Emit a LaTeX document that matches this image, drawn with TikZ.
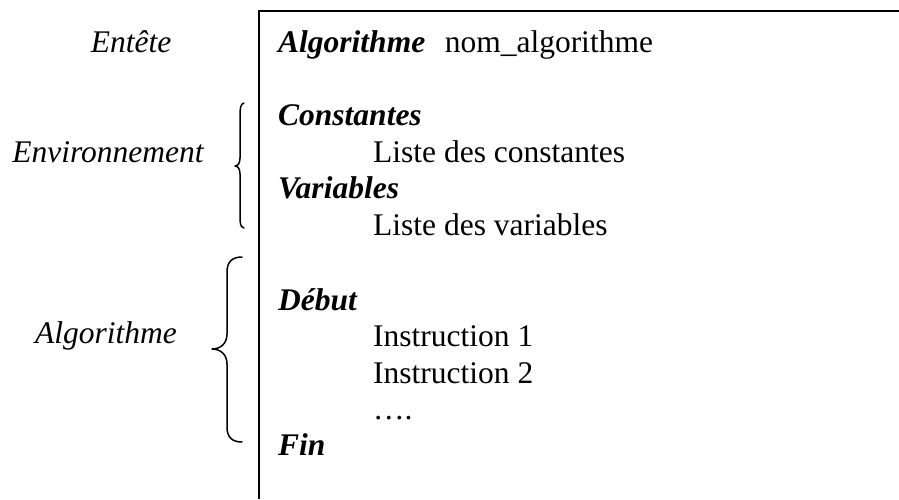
\documentclass[tikz,border=0pt]{standalone}
\usepackage{fontspec}
\setmainfont{Liberation Serif}
\begin{document}
\begin{tikzpicture}[x=1pt,y=-1pt,
  txt/.style={inner sep=0pt,anchor=base west,font=\fontsize{31.5}{37}\selectfont},
  side/.style={inner sep=0pt,anchor=base,font=\fontsize{31.5}{37}\selectfont\itshape},
  kw/.style={txt,font=\fontsize{31.5}{37}\selectfont\bfseries\itshape},
  rule/.style={line width=1.8pt},
  brace/.style={line width=1.5pt,line cap=round,line join=round}]
\useasboundingbox (0,0) rectangle (899,499);

% frame of the algorithm (top and left edges)
\draw[rule] (899,11) -- (259,11) -- (259,499);

% labels on the left
\node[side] (entete) at (131,52) {Entête};
\node[side] (env) at (108,162) {Environnement};
\node[side] (algo) at (106,343) {Algorithme};

% braces
\draw[brace] (244,103) .. controls (240.5,104) and (240,108) .. (240,116)
  -- (240,158) .. controls (240,163) and (238,166) .. (235,166)
  .. controls (238,166) and (240,169) .. (240,174)
  -- (240,216) .. controls (240,224) and (240.5,227) .. (244,228);
\draw[brace] (242,257) .. controls (232,257) and (227,262) .. (227,272)
  -- (227,334) .. controls (227,344) and (220,349) .. (212,349)
  .. controls (220,349) and (227,354) .. (227,364)
  -- (227,427) .. controls (227,437) and (232,442) .. (242,442);

% algorithm text
\node[txt] (head) at (278,52) {\textbf{\textit{Algorithme}}\hspace{0.62em}nom\_algorithme};
\node[kw] (const) at (278,125) {Constantes};
\node[txt] (lconst) at (373,162) {Liste des constantes};
\node[kw] (vars) at (278,198) {Variables};
\node[txt] (lvars) at (373,235) {Liste des variables};
\node[kw] (debut) at (278,310) {Début};
\node[txt] (instr1) at (373,346) {Instruction 1};
\node[txt] (instr2) at (373,383) {Instruction 2};
\node[txt] (dots) at (373,419) {….};
\node[kw] (fin) at (278,455) {Fin};
\end{tikzpicture}
\end{document}
